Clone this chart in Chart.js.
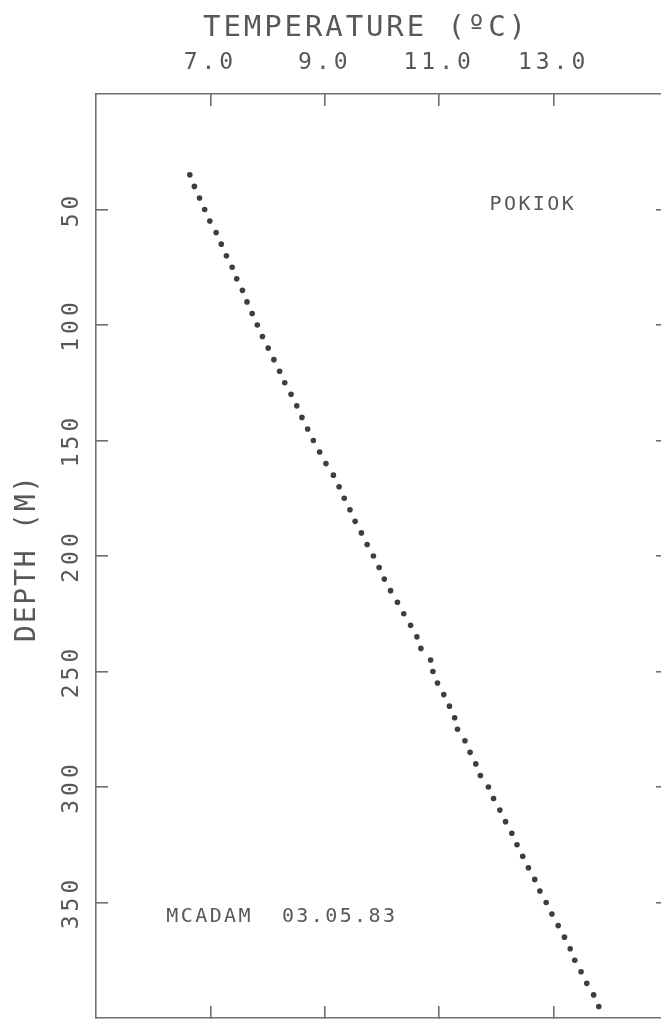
<!DOCTYPE html>
<html>
<head>
<meta charset="utf-8">
<title>Pokiok temperature profile</title>
<script src="https://cdn.jsdelivr.net/npm/chart.js@4"></script>
<style>
  html, body { margin: 0; padding: 0; background: #fff; overflow: hidden; }
  #wrap { position: relative; width: 661px; height: 1022px; overflow: hidden; }
  #wrap canvas { position: absolute; left: 0; top: 0; }
</style>
</head>
<body>
<div id="wrap"><canvas id="chart" width="680" height="1022"></canvas></div>
<script>
// ── Data: temperature profile, one reading every 5 m ──
const DEPTHS = [
  35, 40, 45, 50, 55, 60, 65, 70, 75, 80,
  85, 90, 95, 100, 105, 110, 115, 120, 125, 130,
  135, 140, 145, 150, 155, 160, 165, 170, 175, 180,
  185, 190, 195, 200, 205, 210, 215, 220, 225, 230,
  235, 240, 245, 250, 255, 260, 265, 270, 275, 280,
  285, 290, 295, 300, 305, 310, 315, 320, 325, 330,
  335, 340, 345, 350, 355, 360, 365, 370, 375, 380,
  385, 390, 395,
];
const TEMPS = [
  6.64, 6.72, 6.81, 6.90, 6.99, 7.10, 7.19, 7.28, 7.38, 7.46,
  7.56, 7.64, 7.73, 7.82, 7.91, 8.01, 8.11, 8.21, 8.30, 8.41,
  8.51, 8.60, 8.70, 8.80, 8.91, 9.02, 9.15, 9.25, 9.34, 9.44,
  9.53, 9.64, 9.74, 9.85, 9.95, 10.04, 10.15, 10.27, 10.38, 10.50,
  10.61, 10.68, 10.85, 10.89, 10.97, 11.08, 11.18, 11.27, 11.32, 11.45,
  11.54, 11.64, 11.72, 11.86, 11.95, 12.06, 12.16, 12.27, 12.36, 12.46,
  12.56, 12.67, 12.76, 12.87, 12.97, 13.08, 13.19, 13.29, 13.37, 13.48,
  13.58, 13.70, 13.79,
];

const TEMP_TICKS = [7, 9, 11, 13];
const DEPTH_TICKS = [50, 100, 150, 200, 250, 300, 350];

const X_TITLE = 'TEMPERATURE (ºC)';
const Y_TITLE = 'DEPTH (M)';
const STATION = 'POKIOK';
const STAMP = 'MCADAM  03.05.83';

// ── Look ──
const FONT = '"DejaVu Sans Mono", monospace';
const TEXT = '#585858';
const INK = '#6e6e6e';
const DOT = '#3e3e3e';

// ── Plotter-style text (letter spaced) ──
const plotterText = {
  id: 'plotterText',
  beforeDraw(chart) {
    chart.ctx.letterSpacing = '4px';
  },
  afterDraw(chart) {
    const { ctx, scales: { x, y } } = chart;
    ctx.save();
    ctx.fillStyle = TEXT;

    // top title
    ctx.font = `29px ${FONT}`;
    ctx.letterSpacing = '2.9px';
    ctx.textAlign = 'center';
    ctx.textBaseline = 'alphabetic';
    ctx.fillText(X_TITLE, 366, 36);

    // left title, reads bottom to top
    ctx.save();
    ctx.translate(28, 558);
    ctx.rotate(-Math.PI / 2);
    ctx.font = `28px ${FONT}`;
    ctx.letterSpacing = '1.8px';
    ctx.textBaseline = 'middle';
    ctx.fillText(Y_TITLE, 0, 0);
    ctx.restore();

    // notes inside the frame
    ctx.font = `20px ${FONT}`;
    ctx.letterSpacing = '2.4px';
    ctx.textAlign = 'left';
    ctx.fillText(STATION, x.getPixelForValue(11.88), y.getPixelForValue(50.3));
    ctx.fillText(STAMP, x.getPixelForValue(6.23), y.getPixelForValue(358.5));

    ctx.restore();
    ctx.letterSpacing = '0px';
  },
};

// pin the frame: fixed axis sizes, no label overhang padding
const fixSize = (w, h) => s => {
  if (w != null) s.width = w;
  if (h != null) s.height = h;
  s.paddingTop = s.paddingBottom = s.paddingLeft = s.paddingRight = 0;
};

const tickFont = { family: FONT, size: 23 };
const frameGrid = { drawOnChartArea: false, drawTicks: true, tickLength: -12, color: INK, lineWidth: 1.6 };
const frameBorder = { display: true, color: INK, width: 1.6 };

new Chart(document.getElementById('chart'), {
  type: 'scatter',
  data: {
    datasets: [{
      data: DEPTHS.map((d, i) => ({ x: TEMPS[i], y: d })),
      xAxisID: 'x',
      yAxisID: 'y',
      pointRadius: 2.8,
      pointBorderWidth: 0,
      pointBackgroundColor: DOT,
      showLine: false,
    }],
  },
  options: {
    responsive: false,
    devicePixelRatio: 1,
    animation: false,
    events: [],
    layout: { padding: 0 },
    plugins: { legend: { display: false }, tooltip: { enabled: false } },
    scales: {
      x: {
        type: 'linear', position: 'top', min: 5, max: 15,
        afterBuildTicks: s => { s.ticks = TEMP_TICKS.map(v => ({ value: v })); },
        afterFit: fixSize(null, 94),
        ticks: { callback: v => v.toFixed(1), color: TEXT, font: tickFont, padding: 29, minRotation: 0, maxRotation: 0 },
        grid: frameGrid,
        border: frameBorder,
      },
      x2: {
        type: 'linear', position: 'bottom', min: 5, max: 15,
        afterBuildTicks: s => { s.ticks = TEMP_TICKS.map(v => ({ value: v })); },
        afterFit: fixSize(null, 2),
        ticks: { display: false },
        grid: frameGrid,
        border: frameBorder,
      },
      y: {
        type: 'linear', position: 'left', min: 0, max: 400, reverse: true,
        afterBuildTicks: s => { s.ticks = DEPTH_TICKS.map(v => ({ value: v })); },
        afterFit: fixSize(96, null),
        ticks: { color: TEXT, font: tickFont, padding: 15, minRotation: 90, maxRotation: 90, crossAlign: 'center' },
        grid: frameGrid,
        border: frameBorder,
      },
      y2: {
        type: 'linear', position: 'right', min: 0, max: 400, reverse: true,
        afterBuildTicks: s => { s.ticks = DEPTH_TICKS.map(v => ({ value: v })); },
        afterFit: fixSize(12, null),
        ticks: { display: false },
        grid: frameGrid,
        border: frameBorder,
      },
    },
  },
  plugins: [plotterText],
});
</script>
</body>
</html>
